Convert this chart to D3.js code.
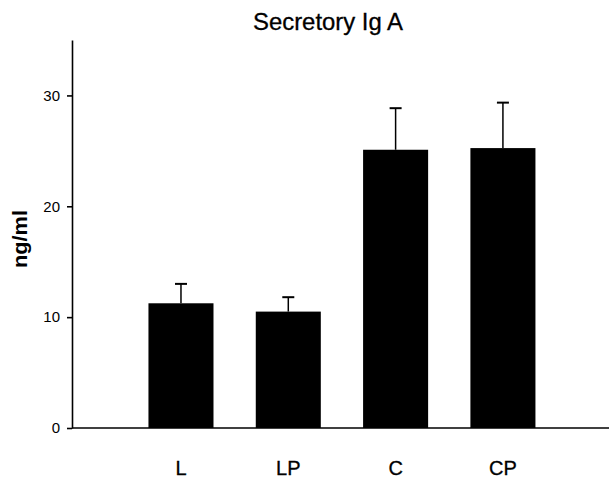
<!DOCTYPE html>
<html>
<head>
<meta charset="utf-8">
<script src="https://cdn.jsdelivr.net/npm/d3@7"></script>
<style>
  body { margin: 0; background: white; }
  svg { display: block; font-family: "Liberation Sans", Arial, sans-serif; }
</style>
</head>
<body>
<div id="svganchor"></div>
<script>
// data
var groups = ["L", "LP", "C", "CP"];
var means = [11.25, 10.5, 25.1, 25.25];
var upperErr = [13.0, 11.8, 28.85, 29.35];
var yTicks = [0, 10, 20, 30];

var width = 609, height = 480;

var svg = d3.select("#svganchor").append("svg")
  .attr("width", width)
  .attr("height", height);

// scales
var y = d3.scaleLinear()
  .domain([0, 35])
  .range([428, 40]);

var x = d3.scaleBand()
  .domain(groups)
  .range([94.8, 589.1])
  .paddingInner(0.394)
  .paddingOuter(0.5);

// title
svg.append("text")
  .attr("x", 328)
  .attr("y", 30)
  .attr("text-anchor", "middle")
  .attr("textLength", 150)
  .attr("lengthAdjust", "spacingAndGlyphs")
  .style("font-size", "23px")
  .style("stroke", "#000")
  .style("stroke-width", 0.3)
  .text("Secretory Ig A");

// y axis
var yAxis = svg.append("g")
  .attr("transform", "translate(72,0)")
  .call(d3.axisLeft(y)
    .tickValues(yTicks)
    .tickSize(5)
    .tickSizeOuter(0)
    .tickPadding(7));
yAxis.select(".domain").attr("stroke", "#000").attr("stroke-width", 1.6);
yAxis.selectAll(".tick line").attr("stroke", "#000").attr("stroke-width", 1.6);
yAxis.selectAll(".tick text")
  .attr("fill", "#000")
  .style("font-size", "15px")
  .style("font-family", "'Liberation Sans', Arial, sans-serif");

// y axis title
svg.append("text")
  .attr("transform", "translate(27,239) rotate(-90)")
  .attr("text-anchor", "middle")
  .attr("textLength", 58)
  .attr("lengthAdjust", "spacingAndGlyphs")
  .style("font-size", "20px")
  .style("font-weight", "bold")
  .text("ng/ml");

// bars
svg.selectAll("rect.bar")
  .data(groups)
  .enter()
  .append("rect")
  .attr("class", "bar")
  .attr("x", function (d) { return x(d); })
  .attr("width", x.bandwidth())
  .attr("y", function (d, i) { return y(means[i]); })
  .attr("height", function (d, i) { return y(0) - y(means[i]); })
  .attr("fill", "#000");

// error bars (upper only)
svg.selectAll("line.err")
  .data(groups)
  .enter()
  .append("line")
  .attr("class", "err")
  .attr("x1", function (d) { return x(d) + x.bandwidth() / 2; })
  .attr("x2", function (d) { return x(d) + x.bandwidth() / 2; })
  .attr("y1", function (d, i) { return y(means[i]); })
  .attr("y2", function (d, i) { return y(upperErr[i]); })
  .attr("stroke", "#000")
  .attr("stroke-width", 1.5);

svg.selectAll("line.cap")
  .data(groups)
  .enter()
  .append("line")
  .attr("class", "cap")
  .attr("x1", function (d) { return x(d) + x.bandwidth() / 2 - 6; })
  .attr("x2", function (d) { return x(d) + x.bandwidth() / 2 + 6; })
  .attr("y1", function (d, i) { return y(upperErr[i]); })
  .attr("y2", function (d, i) { return y(upperErr[i]); })
  .attr("stroke", "#000")
  .attr("stroke-width", 2);

// x axis baseline
svg.append("line")
  .attr("x1", 72)
  .attr("x2", width)
  .attr("y1", y(0))
  .attr("y2", y(0))
  .attr("stroke", "#000")
  .attr("stroke-width", 1.6);

// category labels
svg.selectAll("text.cat")
  .data(groups)
  .enter()
  .append("text")
  .attr("class", "cat")
  .attr("x", function (d) { return x(d) + x.bandwidth() / 2; })
  .attr("y", 475)
  .attr("text-anchor", "middle")
  .style("font-size", "20px")
  .style("stroke", "#000")
  .style("stroke-width", 0.3)
  .text(function (d) { return d; });
</script>
</body>
</html>
